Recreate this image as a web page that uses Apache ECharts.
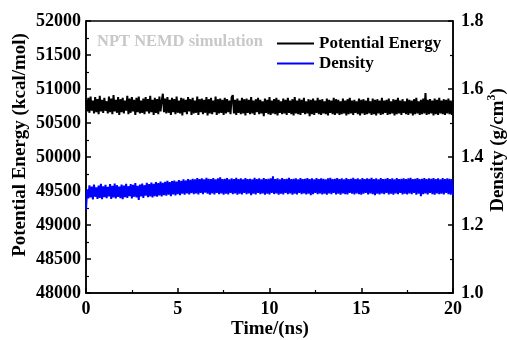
<!DOCTYPE html>
<html><head><meta charset="utf-8">
<script src="https://cdn.jsdelivr.net/npm/echarts@6/dist/echarts.min.js"></script>
<style>html,body{margin:0;padding:0;background:#fff}#c{width:507px;height:340px}</style>
</head><body><div id="c"></div>
<script>
const timeStep = 0.0625; // ns between samples
const energy = [
50840,50670,50870,50650,50890,50680,50830,50640,50880,50660,
50850,50630,50900,50670,50840,50650,50870,50680,50820,50640,
50890,50660,50860,50630,50910,50670,50840,50650,50880,50620,
50850,50660,50870,50640,50830,50680,50900,50630,50860,50650,
50880,50670,50840,50620,50870,50660,50890,50640,50830,50650,
50860,50630,50880,50670,50850,50640,50900,50660,50840,50620,
50870,50650,50850,50630,50890,50670,50830,50930,50660,50860,
50640,50880,50650,50840,50620,50870,50660,50850,50630,50890,
50650,50830,50640,50870,50610,50860,50660,50840,50630,50880,
50670,50850,50620,50870,50640,50830,50650,50890,50620,50850,
50660,50860,50630,50840,50650,50880,50610,50850,50640,50870,
50630,50830,50660,50890,50620,50850,50640,50860,50650,50840,
50620,50870,50640,50850,50660,50830,50630,50880,50910,50640,
50840,50620,50860,50650,50830,50630,50870,50640,50850,50610,
50860,50650,50840,50630,50880,50640,50830,50620,50850,50660,
50870,50630,50840,50640,50820,50600,50860,50650,50840,50630,
50880,50620,50830,50640,50850,50630,50870,50610,50840,50650,
50820,50630,50860,50640,50840,50620,50870,50650,50830,50630,
50850,50610,50880,50640,50830,50630,50860,50620,50840,50650,
50870,50630,50820,50640,50850,50600,50840,50630,50860,50620,
50830,50650,50870,50630,50840,50620,50850,50640,50820,50630,
50860,50610,50840,50650,50830,50630,50870,50620,50850,50640,
50840,50620,50820,50630,50860,50640,50830,50610,50850,50630,
50870,50640,50830,50620,50840,50650,50820,50630,50860,50610,
50840,50640,50850,50620,50830,50630,50870,50640,50820,50620,
50860,50630,50840,50610,50850,50640,50830,50620,50870,50630,
50830,50650,50840,50620,50860,50630,50820,50640,50850,50610,
50840,50630,50870,50640,50830,50620,50850,50650,50820,50630,
50860,50620,50840,50640,50830,50610,50850,50630,50870,50640,
50820,50620,50840,50630,50860,50640,50940,50620,50840,50630,
50850,50640,50830,50610,50860,50630,50840,50620,50870,50640,
50830,50630,50850,50620,50840,50640,50860,50630,50830,50620,
50840];
const density = [
1.245,1.305,1.278,1.317,1.281,1.313,1.275,1.319,1.283,1.311,
1.277,1.316,1.280,1.321,1.276,1.314,1.282,1.318,1.279,1.312,
1.284,1.320,1.277,1.315,1.281,1.322,1.278,1.317,1.283,1.313,
1.279,1.319,1.276,1.316,1.282,1.321,1.280,1.314,1.285,1.320,
1.278,1.318,1.283,1.323,1.281,1.315,1.274,1.319,1.284,1.322,
1.280,1.317,1.286,1.324,1.282,1.320,1.284,1.325,1.281,1.321,
1.285,1.326,1.283,1.323,1.287,1.328,1.284,1.324,1.288,1.327,
1.286,1.330,1.289,1.326,1.285,1.329,1.290,1.331,1.287,1.328,
1.291,1.332,1.288,1.330,1.292,1.334,1.289,1.331,1.293,1.335,
1.290,1.333,1.294,1.336,1.291,1.334,1.293,1.338,1.290,1.335,
1.294,1.337,1.291,1.334,1.295,1.339,1.292,1.336,1.289,1.335,
1.293,1.338,1.290,1.334,1.294,1.337,1.291,1.340,1.293,1.335,
1.289,1.336,1.292,1.338,1.290,1.334,1.294,1.337,1.291,1.335,
1.293,1.339,1.289,1.335,1.292,1.337,1.290,1.334,1.294,1.338,
1.291,1.335,1.293,1.336,1.288,1.334,1.292,1.339,1.290,1.335,
1.294,1.337,1.291,1.334,1.293,1.338,1.289,1.335,1.292,1.336,
1.290,1.337,1.294,1.343,1.291,1.335,1.293,1.337,1.289,1.334,
1.292,1.338,1.290,1.335,1.294,1.336,1.291,1.339,1.293,1.335,
1.289,1.336,1.292,1.337,1.290,1.334,1.294,1.338,1.291,1.335,
1.293,1.336,1.290,1.338,1.292,1.335,1.288,1.337,1.291,1.334,
1.294,1.338,1.291,1.335,1.293,1.337,1.290,1.336,1.292,1.334,
1.289,1.337,1.293,1.339,1.291,1.335,1.294,1.336,1.290,1.338,
1.292,1.335,1.289,1.337,1.293,1.334,1.291,1.338,1.290,1.335,
1.294,1.336,1.292,1.339,1.290,1.335,1.293,1.337,1.291,1.334,
1.289,1.338,1.292,1.335,1.294,1.337,1.290,1.336,1.293,1.339,
1.291,1.335,1.288,1.337,1.292,1.334,1.290,1.338,1.293,1.335,
1.291,1.336,1.294,1.338,1.290,1.335,1.292,1.337,1.289,1.334,
1.293,1.338,1.291,1.335,1.294,1.336,1.290,1.337,1.292,1.335,
1.290,1.337,1.293,1.339,1.291,1.335,1.294,1.336,1.289,1.338,
1.292,1.335,1.285,1.336,1.291,1.338,1.293,1.335,1.290,1.337,
1.294,1.336,1.291,1.338,1.289,1.335,1.293,1.337,1.291,1.334,
1.292,1.338,1.290,1.335,1.294,1.337,1.291,1.336,1.289,1.335,
1.288];
const xTicks = {min:0, max:20, interval:5};
const yLeftTicks = {min:48000, max:52000, interval:500};
const yRightTicks = {min:1.0, max:1.8, interval:0.2};
const seriesNames = ['Potential Energy','Density'];

const font = '"Liberation Serif","Times New Roman",serif';
const chart = echarts.init(document.getElementById('c'), null, {renderer:'canvas'});
const eData = energy.map((v,i)=>[i*timeStep, v]);
const dData = density.map((v,i)=>[i*timeStep, v]);
const axisCommon = {
  axisLine:{show:true, lineStyle:{color:'#000', width:1.5}},
  axisTick:{show:true, inside:true, length:5, lineStyle:{color:'#000', width:1.5}},
  minorTick:{show:true, splitNumber:2, length:3, lineStyle:{color:'#000', width:1.2}},
  splitLine:{show:false},
  axisLabel:{color:'#000', fontFamily:font, fontWeight:'bold', fontSize:18}
};
chart.setOption({
  animation:false,
  grid:{left:86, right:54, top:21, bottom:47, show:true, borderColor:'#000', borderWidth:1.5},
  xAxis:Object.assign({type:'value', min:xTicks.min, max:xTicks.max, interval:xTicks.interval}, axisCommon,
    {axisLabel:Object.assign({}, axisCommon.axisLabel, {margin:7})}),
  yAxis:[
    Object.assign({type:'value', min:yLeftTicks.min, max:yLeftTicks.max, interval:yLeftTicks.interval, position:'left'}, axisCommon,
      {axisLabel:Object.assign({}, axisCommon.axisLabel, {margin:5, formatter:v=>String(v)})}),
    Object.assign({type:'value', min:yRightTicks.min, max:yRightTicks.max, interval:yRightTicks.interval, position:'right'}, axisCommon,
      {axisLabel:Object.assign({}, axisCommon.axisLabel, {margin:8, formatter:v=>v.toFixed(1)})})
  ],
  legend:{
    orient:'vertical', left:272, top:30, itemGap:3, itemWidth:37, itemHeight:2,
    icon:'rect',
    textStyle:{fontFamily:font, fontWeight:'bold', fontSize:17, color:'#000'},
    data:seriesNames
  },
  series:[
    {name:seriesNames[0], type:'line', data:eData, yAxisIndex:0, showSymbol:false, symbol:'none',
     lineStyle:{color:'#000', width:2}, itemStyle:{color:'#000'}},
    {name:seriesNames[1], type:'line', data:dData, yAxisIndex:1, showSymbol:false, symbol:'none',
     lineStyle:{color:'#0000ff', width:2}, itemStyle:{color:'#0000ff'}}
  ],
  graphic:[
    {type:'text', left:97, top:33, style:{text:'NPT NEMD simulation', font:'bold 16.5px '+font, fill:'#c8c8c8'}},
    {type:'text', x:20, y:145, rotation:Math.PI/2,
     style:{text:'Potential Energy (kcal/mol)', font:'bold 19px '+font, fill:'#000', align:'center', verticalAlign:'middle'}},
    {type:'text', x:497, y:150, rotation:Math.PI/2,
     style:{text:'{a|Density (g/cm}{s|3}{a|)}', align:'center', verticalAlign:'middle',
       rich:{a:{font:'bold 19px '+font, fill:'#000', verticalAlign:'bottom'},
             s:{font:'bold 12px '+font, fill:'#000', verticalAlign:'top', padding:[0,0,10,0]}}}},
    {type:'text', x:270, y:329,
     style:{text:'Time/(ns)', font:'bold 19px '+font, fill:'#000', align:'center', verticalAlign:'middle'}}
  ]
});
</script></body></html>
